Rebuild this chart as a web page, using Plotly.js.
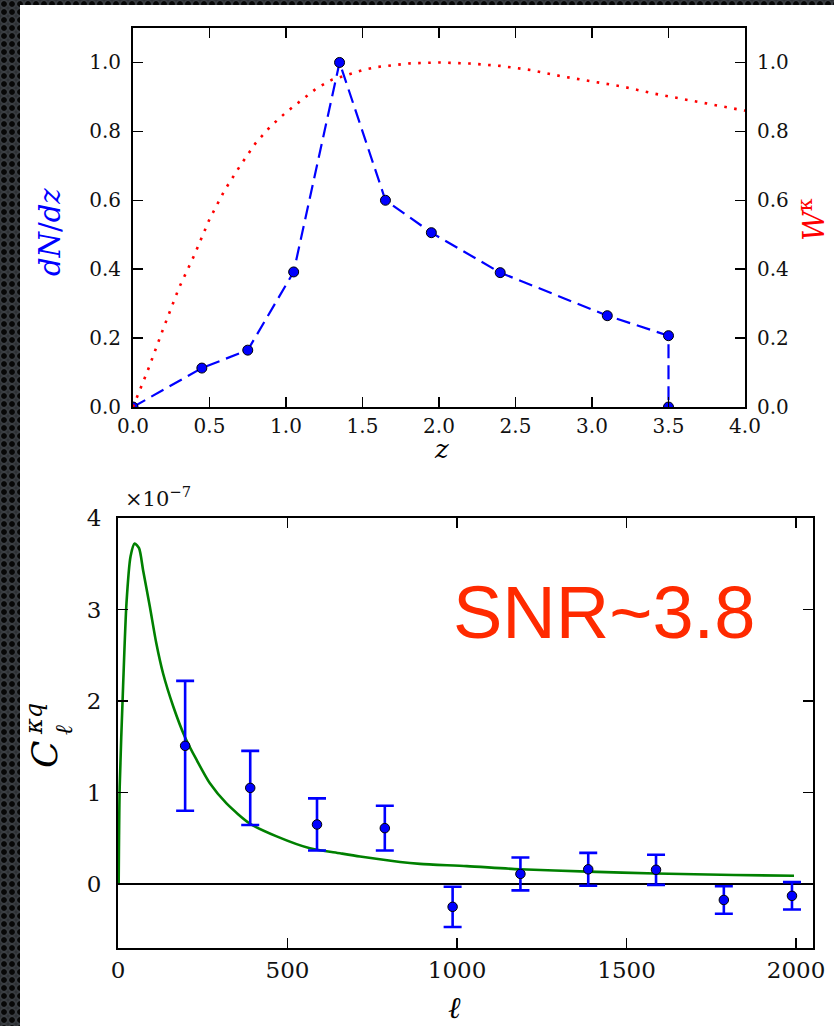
<!DOCTYPE html>
<html>
<head>
<meta charset="utf-8">
<script src="https://cdn.plot.ly/plotly-3.0.1.min.js"></script>
<style>
  html, body { margin: 0; padding: 0; width: 834px; height: 1026px; overflow: hidden; }
  body {
    background-color: #2b2e32;
    background-image: radial-gradient(circle, #070707 0, #070707 2.4px, #3d4146 3.3px, #2b2e32 5.2px);
    background-size: 8px 8px;
  }
  #plot { position: absolute; left: 20px; top: 5px; width: 814px; height: 1021px; background: #fff; }
</style>
</head>
<body>
<div id="plot"></div>
<script>
// ---- top panel: redshift distribution and lensing kernel ----
const zN   = [0, 0.45, 0.75, 1.05, 1.35, 1.65, 1.95, 2.4, 3.1, 3.5, 3.5];
const dNdz = [0, 0.113, 0.165, 0.392, 1.0, 0.6, 0.506, 0.39, 0.265, 0.207, 0.0];

const zW    = [0, 0.1, 0.2, 0.3, 0.4, 0.5, 0.6, 0.7, 0.8, 0.9, 1.0, 1.1, 1.2, 1.3, 1.4, 1.5, 1.6, 1.8, 2.0, 2.2, 2.4, 2.6, 2.8, 3.0, 3.2, 3.4, 3.6, 3.8, 4.0];
const Wkappa = [0, 0.11, 0.23, 0.345, 0.44, 0.545, 0.63, 0.70, 0.765, 0.815, 0.855, 0.89, 0.925, 0.95, 0.965, 0.978, 0.987, 0.997, 1.0, 0.997, 0.99, 0.978, 0.96, 0.945, 0.93, 0.91, 0.893, 0.877, 0.86];

const zTicks   = [0, 0.5, 1.0, 1.5, 2.0, 2.5, 3.0, 3.5, 4.0];
const topYTicks = [0, 0.2, 0.4, 0.6, 0.8, 1.0];

// ---- bottom panel: cross-power spectrum (units of 1e-7) ----
const ellData = [198, 390, 587, 787, 987, 1187, 1387, 1587, 1787, 1988];
const Ckq     = [1.51, 1.05, 0.65, 0.61, -0.25, 0.11, 0.16, 0.155, -0.175, -0.13];
const CkqErr  = [0.71, 0.405, 0.285, 0.245, 0.22, 0.18, 0.18, 0.165, 0.15, 0.15];

const ellTheory = [2, 5, 15, 25, 37, 49, 62, 74, 94, 113, 133, 163, 197, 232, 271, 320, 389, 468, 566, 655, 714, 832, 891, 1029, 1185, 1387, 1586, 1817, 1994];
const CkqTheory = [0, 1.06, 2.16, 3.07, 3.58, 3.72, 3.67, 3.43, 3.03, 2.63, 2.30, 1.94, 1.61, 1.355, 1.10, 0.88, 0.66, 0.52, 0.39, 0.335, 0.30, 0.24, 0.22, 0.195, 0.16, 0.135, 0.115, 0.098, 0.09];

const ellTicks = [0, 500, 1000, 1500, 2000];
const cTicks   = [0, 1, 2, 3, 4];

// page pixel -> paper fraction (plot div at left 20, top 5, 814x1021)
const W = 814, H = 1021;
const px = x => (x - 20) / W;
const py = y => 1 - (y - 5) / H;

const serif = 'DejaVu Serif';
const tickTop = {family: serif, size: 20, color: '#111'};
const tickBot = {family: serif, size: 23, color: '#111'};

const axisCommon = {
  showgrid: false, zeroline: false, showline: true, linecolor: '#000', linewidth: 2,
  ticks: 'inside', ticklen: 10, tickwidth: 1.5, tickcolor: '#000'
};

const traces = [
  {
    x: zW, y: Wkappa, xaxis: 'x', yaxis: 'y2', mode: 'lines',
    line: {color: '#ff0000', width: 2.6, dash: '2.6px,7.4px'},
    hoverinfo: 'skip'
  },
  {
    x: zN, y: dNdz, xaxis: 'x', yaxis: 'y', mode: 'lines+markers',
    line: {color: '#0000ff', width: 2.2, dash: '14px,7px'},
    marker: {color: '#0000ff', size: 10, line: {color: '#000', width: 1}},
    hoverinfo: 'skip'
  },
  {
    x: ellTheory, y: CkqTheory, xaxis: 'x3', yaxis: 'y3', mode: 'lines',
    line: {color: '#008000', width: 2.6, shape: 'spline', smoothing: 0.7}, hoverinfo: 'skip'
  },
  {
    x: ellData, y: Ckq, xaxis: 'x3', yaxis: 'y3', mode: 'markers',
    error_y: {type: 'data', array: CkqErr, visible: true, color: '#0000ff', thickness: 2.6, width: 9},
    marker: {color: '#0000ff', size: 9.5, line: {color: '#000', width: 1}},
    hoverinfo: 'skip'
  }
];

const layout = {
  width: W, height: H,
  margin: {l: 0, r: 0, t: 0, b: 0},
  paper_bgcolor: '#ffffff', plot_bgcolor: '#ffffff',
  showlegend: false,
  xaxis: Object.assign({}, axisCommon, {
    domain: [px(133), px(745)], anchor: 'y', range: [0, 4],
    tickvals: zTicks, tickformat: '.1f', mirror: 'ticks', tickfont: tickTop,
    ticklabelstandoff: 0
  }),
  yaxis: Object.assign({}, axisCommon, {
    domain: [py(407), py(28)], anchor: 'x', range: [0, 1.1],
    tickvals: topYTicks, tickformat: '.1f', mirror: true, tickfont: tickTop,
    ticklabelstandoff: 6
  }),
  yaxis2: Object.assign({}, axisCommon, {
    overlaying: 'y', side: 'right', anchor: 'x', range: [0, 1.1],
    tickvals: topYTicks, tickformat: '.1f', tickfont: tickTop,
    ticklabelstandoff: 6
  }),
  xaxis3: Object.assign({}, axisCommon, {
    domain: [px(118), px(813)], anchor: 'y3', range: [0, 2050],
    tickvals: ellTicks, mirror: 'ticks', tickfont: tickBot,
    ticklabelstandoff: 0
  }),
  yaxis3: Object.assign({}, axisCommon, {
    domain: [py(948), py(518)], anchor: 'x3', range: [-0.7, 4],
    tickvals: cTicks, mirror: 'ticks', tickfont: tickBot,
    zeroline: true, zerolinecolor: '#000', zerolinewidth: 2,
    ticklabelstandoff: 10
  }),
  annotations: [
    {xref: 'paper', yref: 'paper', x: px(441), y: py(449), text: '<i>z</i>', showarrow: false,
     font: {family: serif, size: 26, color: '#000'}, xanchor: 'center', yanchor: 'middle'},
    {xref: 'paper', yref: 'paper', x: px(50), y: py(232), text: '<i>dN</i>/<i>dz</i>', showarrow: false,
     textangle: -90, font: {family: serif, size: 29, color: '#0000ff'}, xanchor: 'center', yanchor: 'middle'},
    {xref: 'paper', yref: 'paper', x: px(812), y: py(220), text: '<i>W</i><sup>κ</sup>', showarrow: false,
     textangle: -90, font: {family: serif, size: 29, color: '#ff0000'}, xanchor: 'center', yanchor: 'middle'},
    {xref: 'paper', yref: 'paper', x: px(455), y: py(1007), text: '<i>ℓ</i>', showarrow: false,
     font: {family: serif, size: 30, color: '#000'}, xanchor: 'center', yanchor: 'middle'},
    {xref: 'paper', yref: 'paper', x: px(44), y: py(754), text: '<i>C</i>', showarrow: false,
     textangle: -90, font: {family: serif, size: 36, color: '#000'}, xanchor: 'center', yanchor: 'middle'},
    {xref: 'paper', yref: 'paper', x: px(34), y: py(719), text: '<i>κq</i>', showarrow: false,
     textangle: -90, font: {family: serif, size: 24, color: '#000'}, xanchor: 'center', yanchor: 'middle'},
    {xref: 'paper', yref: 'paper', x: px(64), y: py(730), text: '<i>ℓ</i>', showarrow: false,
     textangle: -90, font: {family: serif, size: 24, color: '#000'}, xanchor: 'center', yanchor: 'middle'},
    {xref: 'paper', yref: 'paper', x: px(123), y: py(497), text: '×10<sup>−7</sup>', showarrow: false,
     font: {family: serif, size: 21, color: '#111'}, xanchor: 'left', yanchor: 'middle'},
    {xref: 'paper', yref: 'paper', x: px(604), y: py(612), text: 'SNR~3.8', showarrow: false,
     font: {family: 'Liberation Sans', size: 74, color: '#ff2a00'}, xanchor: 'center', yanchor: 'middle'}
  ]
};

Plotly.newPlot('plot', traces, layout, {staticPlot: true, displayModeBar: false});
</script>
</body>
</html>
